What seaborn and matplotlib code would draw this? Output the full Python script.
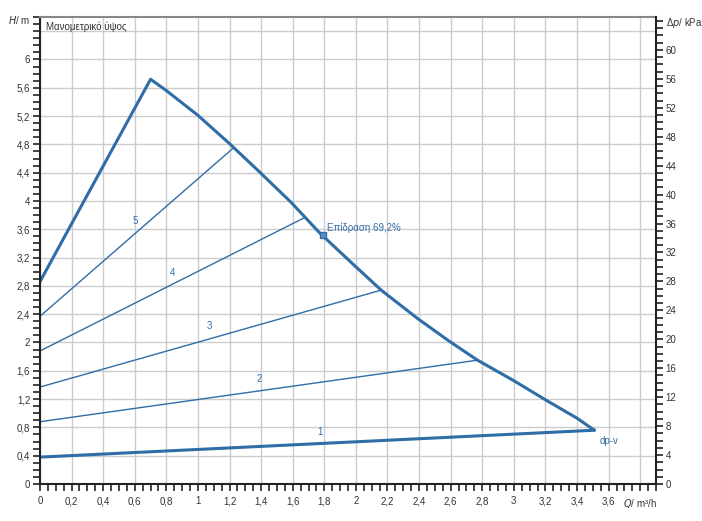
import numpy as np
import pandas as pd
import matplotlib
matplotlib.use("Agg")
import matplotlib.pyplot as plt
import seaborn as sns
from matplotlib.ticker import MultipleLocator, FuncFormatter

sns.set_theme(style="whitegrid")
plt.rcParams['font.family'] = ['Liberation Sans', 'DejaVu Sans']

# data
max_q = [0.0, 0.70, 0.80, 1.00, 1.20, 1.39, 1.59, 1.77, 1.99, 2.16, 2.39, 2.59, 2.77, 3.00, 3.20, 3.40, 3.51]
max_h = [2.86, 5.72, 5.56, 5.21, 4.81, 4.41, 3.98, 3.55, 3.09, 2.74, 2.34, 2.02, 1.75, 1.46, 1.19, 0.93, 0.76]

curve_names = ["1", "2", "3", "4", "5"]
curve_start_h = [0.38, 0.88, 1.37, 1.88, 2.37]
curve_end_q = [3.51, 2.77, 2.16, 1.68, 1.23]
curve_end_h = [0.76, 1.75, 2.74, 3.77, 4.76]
label_q = [1.77, 1.39, 1.07, 0.84, 0.60]
label_h = [0.66, 1.42, 2.16, 2.91, 3.65]

op_q, op_h = 1.79, 3.52
op_text = "Επίδραση 69,2%"
kpa_per_m = 9.78

BLUE = "#2f6da6"

fig = plt.figure(figsize=(7.02, 5.21), dpi=100)
ax = fig.add_axes([40 / 702, 37 / 521, 616 / 702, 467 / 521])

# max curve (thick)
df_max = pd.DataFrame({"Q": max_q, "H": max_h})
sns.lineplot(data=df_max, x="Q", y="H", ax=ax, color=BLUE, linewidth=2.2, sort=False)

# control curves 1..5
for i, name in enumerate(curve_names):
    df_c = pd.DataFrame({"Q": [0.0, curve_end_q[i]], "H": [curve_start_h[i], curve_end_h[i]]})
    lw = 2.2 if name == "1" else 1.0
    sns.lineplot(data=df_c, x="Q", y="H", ax=ax, color=BLUE, linewidth=lw, sort=False)
    ax.text(label_q[i], label_h[i], name, color=BLUE, fontsize=7, ha="center", va="bottom")

# operating point
ax.plot([op_q], [op_h], marker="s", markersize=5, markerfacecolor="#5b8fc4",
        markeredgecolor=BLUE, linestyle="None")
ax.text(op_q + 0.03, op_h + 0.03, op_text, color=BLUE, fontsize=7, ha="left", va="bottom")
ax.text(3.54, 0.68, "dp-v", color=BLUE, fontsize=7, ha="left", va="top")

ax.set_xlim(0, 3.9)
ax.set_ylim(0, 6.6)
ax.xaxis.set_major_locator(MultipleLocator(0.2))
ax.xaxis.set_minor_locator(MultipleLocator(0.05))
ax.yaxis.set_major_locator(MultipleLocator(0.4))
ax.yaxis.set_minor_locator(MultipleLocator(0.1))


def fmt_x(v, pos):
    if abs(v - 3.8) < 1e-6:
        return "$Q$/ m³/h"
    return f"{v:g}".replace(".", ",")


def fmt_y(v, pos):
    if v > 6.1:
        return ""
    return f"{v:g}".replace(".", ",")


ax.xaxis.set_major_formatter(FuncFormatter(fmt_x))
ax.yaxis.set_major_formatter(FuncFormatter(fmt_y))
ax.set_xlabel("")
ax.set_ylabel("")

ax.grid(True, which="major", color="#cccccc", linewidth=1.0)
ax.tick_params(axis="both", which="both", direction="out", colors="#222222",
               labelsize=7, labelcolor="#333333")
ax.tick_params(axis="both", which="major", length=5, width=1.2)
ax.tick_params(axis="both", which="minor", length=5, width=1.2)
ax.tick_params(axis="x", which="both", bottom=True, pad=4)
ax.tick_params(axis="y", which="both", left=True, pad=2)

for side in ["left", "bottom"]:
    ax.spines[side].set_color("#222222")
    ax.spines[side].set_linewidth(1.5)
ax.spines["top"].set_color("#888888")
ax.spines["top"].set_linewidth(1.5)
ax.spines["right"].set_visible(False)

ax.text(-0.06, 6.56, "$H$/ m", fontsize=7, color="#333333", ha="right", va="center")
ax.text(0.04, 6.53, "Μανομετρικό ύψος", fontsize=7, color="#333333", ha="left", va="top")

# right axis in kPa
ax2 = ax.twinx()
ax2.set_ylim(0, 6.6 * kpa_per_m)
ax2.yaxis.set_major_locator(MultipleLocator(4))
ax2.yaxis.set_minor_locator(MultipleLocator(1))
ax2.yaxis.set_major_formatter(FuncFormatter(lambda v, p: "Δ$p$/ kPa" if v > 62 else f"{v:g}"))
ax2.grid(False)
ax2.tick_params(axis="y", which="both", direction="out", colors="#222222",
                labelsize=7, labelcolor="#333333", length=5, width=1.2, right=True, pad=2)
for side in ["left", "bottom", "top"]:
    ax2.spines[side].set_visible(False)
ax2.spines["right"].set_color("#222222")
ax2.spines["right"].set_linewidth(1.5)

fig.savefig("out.png", dpi=100)
